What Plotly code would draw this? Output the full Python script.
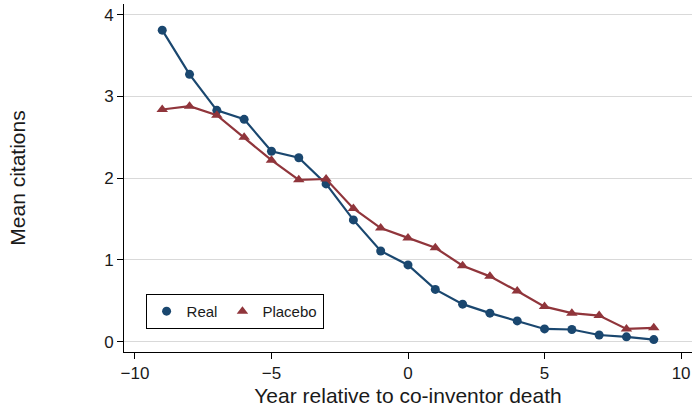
import plotly.graph_objects as go

years = list(range(-9, 10))
real = [3.81, 3.27, 2.83, 2.72, 2.33, 2.25, 1.93, 1.49, 1.11, 0.94, 0.64, 0.46, 0.35, 0.255, 0.157, 0.15, 0.083, 0.06, 0.027]
placebo = [2.84, 2.88, 2.77, 2.50, 2.22, 1.98, 1.99, 1.63, 1.39, 1.27, 1.15, 0.93, 0.80, 0.62, 0.43, 0.35, 0.32, 0.157, 0.17]
x_ticks = [-10, -5, 0, 5, 10]
y_ticks = [0, 1, 2, 3, 4]

blue = "#1a476f"
red = "#90353b"

fig = go.Figure()
fig.add_trace(go.Scatter(x=years, y=real, mode="lines+markers", name="Real", showlegend=False,
                         line=dict(color=blue, width=2.2),
                         marker=dict(symbol="circle", size=9, color=blue)))
fig.add_trace(go.Scatter(x=years, y=placebo, mode="lines+markers", name="Placebo", showlegend=False,
                         line=dict(color=red, width=2.2),
                         marker=dict(symbol="triangle-up", size=10, color=red)))
# legend entries (markers only)
fig.add_trace(go.Scatter(x=[None], y=[None], mode="markers", name="Real",
                         marker=dict(symbol="circle", size=9, color=blue)))
fig.add_trace(go.Scatter(x=[None], y=[None], mode="markers", name="Placebo",
                         marker=dict(symbol="triangle-up", size=10, color=red)))

fig.update_layout(
    width=692, height=408,
    margin=dict(l=124, r=0, t=4, b=56),
    paper_bgcolor="white", plot_bgcolor="white",
    font=dict(family="Liberation Sans, Arial, sans-serif", size=17, color="#1a1a1a"),
    legend=dict(x=0.038, y=0.167, xanchor="left", yanchor="top", orientation="h",
                bordercolor="black", borderwidth=1, bgcolor="white",
                font=dict(size=15), itemwidth=30),
    xaxis=dict(range=[-10.4, 10.4], tickvals=x_ticks, showgrid=False, zeroline=False,
               showline=True, linecolor="black", linewidth=1,
               ticks="outside", ticklen=6, tickcolor="black",
               tickfont=dict(size=17),
               title=dict(text="Year relative to co-inventor death", font=dict(size=21), standoff=5)),
    yaxis=dict(range=[-0.125, 4.13], tickvals=y_ticks, showgrid=True, gridcolor="#d9d9d9",
               zeroline=False, showline=True, linecolor="black", linewidth=1,
               ticks="outside", ticklen=6, tickcolor="black",
               tickfont=dict(size=17),
               title=dict(text="Mean citations", font=dict(size=21), standoff=72)),
)

fig.write_html("out.html")
